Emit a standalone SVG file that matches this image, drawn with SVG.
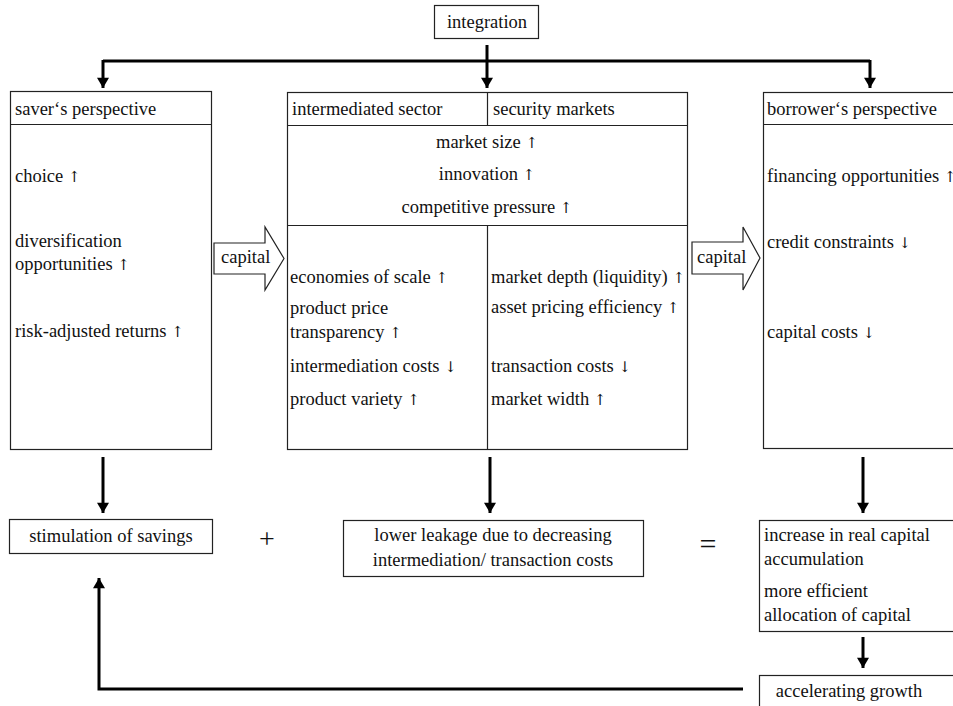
<svg xmlns="http://www.w3.org/2000/svg" width="953" height="706" viewBox="0 0 953 706">
<defs>
<marker id="ah" markerUnits="userSpaceOnUse" markerWidth="14" markerHeight="12" refX="12" refY="7" orient="auto" viewBox="0 0 12 14">
<path d="M0,0 L12,7 L0,14 Z" fill="#000"/>
</marker>
<style>
text{font-family:'Liberation Serif','Times New Roman','DejaVu Serif',serif;font-size:18.5px;fill:#111}
.c{text-anchor:middle}
.r{font-family:'DejaVu Serif',serif;font-size:15px}
.b{fill:#fff;stroke:#222;stroke-width:1.2}
.l{fill:none;stroke:#222;stroke-width:1.2}
.a{fill:none;stroke:#000;stroke-width:3;marker-end:url(#ah)}
.p{fill:none;stroke:#000;stroke-width:3}
</style>
</defs>
<rect width="953" height="706" fill="#fff"/>

<g id="connectors">
<path class="p" d="M103,61 H870"/>
<path class="a" d="M103,60 V88"/>
<path class="a" d="M487,45 V88"/>
<path class="a" d="M870,60 V88"/>
<path class="a" d="M103,457 V513"/>
<path class="a" d="M490,457 V513"/>
<path class="a" d="M863,457 V513"/>
<path class="a" d="M863,637 V668"/>
<path class="a" d="M743,689 H99 V578"/>
</g>

<g id="integration">
<rect class="b" x="434.5" y="5.5" width="104" height="33"/>
<text class="c" x="487" y="28" font-family="Liberation Serif, serif">integration</text>
</g>

<g id="saver">
<rect class="b" x="10.5" y="91.5" width="201" height="358"/>
<line class="l" x1="10.5" y1="124.5" x2="211.5" y2="124.5"/>
<text x="15" y="115">saver‘s perspective</text>
<text x="15" y="182">choice <tspan class="r">↑</tspan></text>
<text x="15" y="247">diversification</text>
<text x="15" y="270">opportunities <tspan class="r">↑</tspan></text>
<text x="15" y="337">risk-adjusted returns <tspan class="r">↑</tspan></text>
</g>

<g id="capital-left">
<path class="b" d="M214,243 H265 V227 L284,258.5 L265,290 V274 H214 Z"/>
<text x="221" y="263">capital</text>
</g>

<g id="middle">
<rect class="b" x="287.5" y="92.5" width="400" height="357"/>
<line class="l" x1="287.5" y1="125.5" x2="687.5" y2="125.5"/>
<line class="l" x1="487.5" y1="92.5" x2="487.5" y2="125.5"/>
<line class="l" x1="287.5" y1="225.5" x2="687.5" y2="225.5"/>
<line class="l" x1="487.5" y1="225.5" x2="487.5" y2="449.5"/>
<text x="292" y="115">intermediated sector</text>
<text x="493" y="115">security markets</text>
<text class="c" x="487" y="148">market size <tspan class="r">↑</tspan></text>
<text class="c" x="487" y="180">innovation <tspan class="r">↑</tspan></text>
<text class="c" x="487" y="213">competitive pressure <tspan class="r">↑</tspan></text>
<text x="290" y="283">economies of scale <tspan class="r">↑</tspan></text>
<text x="290" y="314">product price</text>
<text x="290" y="338">transparency <tspan class="r">↑</tspan></text>
<text x="290" y="372">intermediation costs <tspan class="r">↓</tspan></text>
<text x="290" y="405">product variety <tspan class="r">↑</tspan></text>
<text x="491" y="283">market depth (liquidity) <tspan class="r">↑</tspan></text>
<text x="491" y="313">asset pricing efficiency <tspan class="r">↑</tspan></text>
<text x="491" y="372">transaction costs <tspan class="r">↓</tspan></text>
<text x="491" y="405">market width <tspan class="r">↑</tspan></text>
</g>

<g id="capital-right">
<path class="b" d="M692,242 H743 V227 L760,258 L743,290 V274 H692 Z"/>
<text x="697" y="263">capital</text>
</g>

<g id="borrower">
<rect class="b" x="763.5" y="92.5" width="200" height="356"/>
<line class="l" x1="763.5" y1="124.5" x2="963" y2="124.5"/>
<text x="767" y="115">borrower‘s perspective</text>
<text x="767" y="182">financing opportunities <tspan class="r">↑</tspan></text>
<text x="767" y="248">credit constraints <tspan class="r">↓</tspan></text>
<text x="767" y="338">capital costs <tspan class="r">↓</tspan></text>
</g>

<g id="savings">
<rect class="b" x="9.5" y="519.5" width="203" height="34"/>
<text class="c" x="111" y="542">stimulation of savings</text>
</g>

<text class="c" x="267" y="548" style="font-size:28px">+</text>

<g id="leakage">
<rect class="b" x="343.5" y="520.5" width="300" height="56"/>
<text class="c" x="493" y="541">lower leakage due to decreasing</text>
<text class="c" x="493" y="566">intermediation/ transaction costs</text>
</g>

<text class="c" x="708" y="554" style="font-size:30px">=</text>

<g id="accumulation">
<rect class="b" x="759.5" y="520.5" width="200" height="111"/>
<text x="764" y="541">increase in real capital</text>
<text x="764" y="565">accumulation</text>
<text x="764" y="597">more efficient</text>
<text x="764" y="621">allocation of capital</text>
</g>

<g id="growth">
<rect class="b" x="759.5" y="675.5" width="200" height="40"/>
<text class="c" x="849" y="697">accelerating growth</text>
</g>
</svg>
